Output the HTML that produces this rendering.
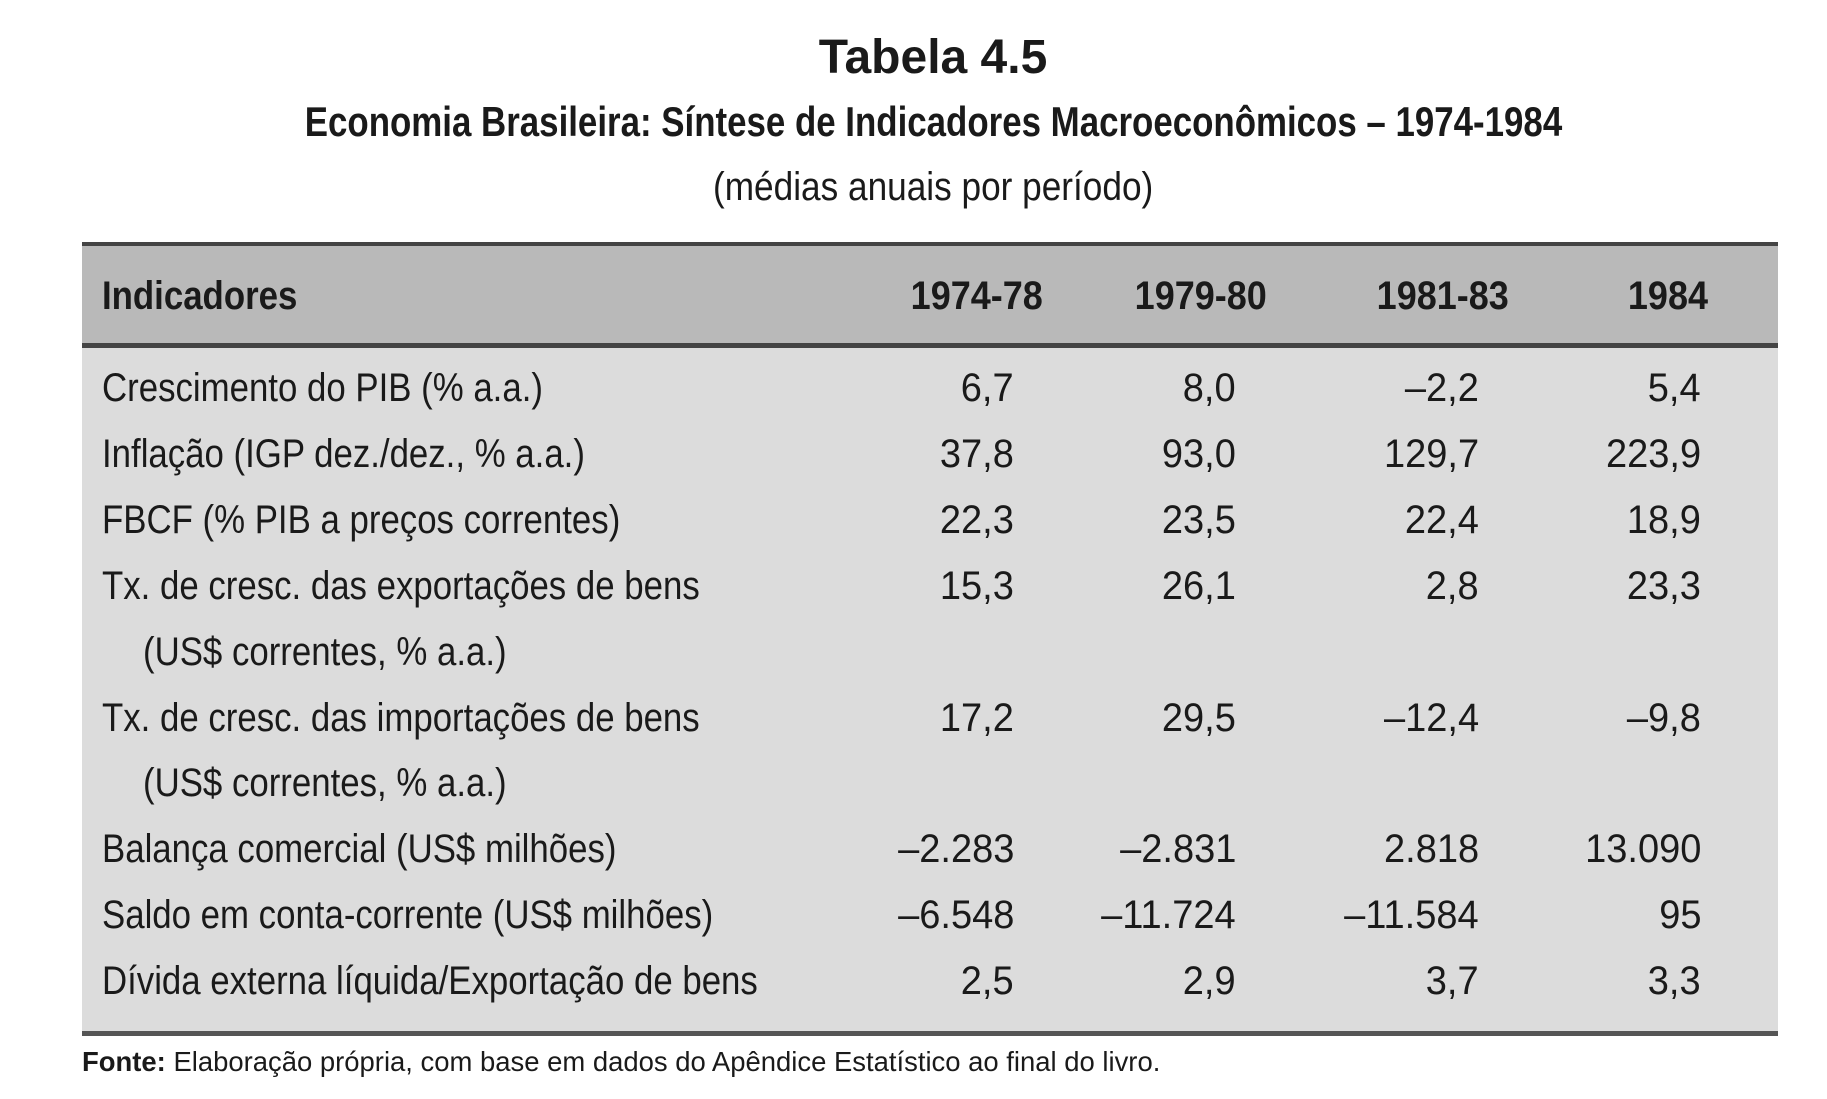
<!DOCTYPE html>
<html><head><meta charset="utf-8">
<style>
html,body{margin:0;padding:0;background:#fff;}
#root{position:relative;width:1827px;height:1099px;overflow:hidden;background:#fff;font-family:"Liberation Sans",sans-serif;color:#1a1a1a;}
.t{position:absolute;white-space:nowrap;line-height:1;}
.t span{display:inline-block;}
.l span{transform:scaleX(.87);transform-origin:left center;}
.r span{transform:scaleX(.88);transform-origin:right center;}
.c span{transform:scaleX(.83);transform-origin:center center;}
.b{font-weight:bold;}
</style></head>
<body>
<div id="root">
  <div class="t b" style="left:0;width:1866px;text-align:center;top:34px;font-size:48px;">Tabela 4.5</div>
  <div class="t b c" style="left:0;width:1866px;text-align:center;top:101px;font-size:42px;"><span>Economia Brasileira: Síntese de Indicadores Macroeconômicos – 1974-1984</span></div>
  <div class="t c" style="left:0;width:1866px;text-align:center;top:167px;font-size:40px;"><span style="transform:scaleX(.88)">(médias anuais por período)</span></div>

  <div style="position:absolute;left:82px;width:1696px;top:242px;height:4px;background:#444;"></div>
  <div style="position:absolute;left:82px;width:1696px;top:246px;height:97px;background:#b9b9b9;"></div>
  <div style="position:absolute;left:82px;width:1696px;top:343px;height:5px;background:#444;"></div>
  <div style="position:absolute;left:82px;width:1696px;top:348px;height:683px;background:#dcdcdc;"></div>
  <div style="position:absolute;left:82px;width:1696px;top:1031px;height:5px;background:#555;"></div>

  <div class="t b l" style="left:102px;top:276px;font-size:40px;"><span>Indicadores</span></div>
  <div class="t b r" style="right:784px;top:276px;font-size:40px;"><span style="transform:scaleX(.9)">1974-78</span></div>
  <div class="t b r" style="right:560px;top:276px;font-size:40px;"><span style="transform:scaleX(.9)">1979-80</span></div>
  <div class="t b r" style="right:318px;top:276px;font-size:40px;"><span style="transform:scaleX(.9)">1981-83</span></div>
  <div class="t b r" style="right:119px;top:276px;font-size:40px;"><span style="transform:scaleX(.9)">1984</span></div>

  <div class="t l" style="left:82px;top:1048px;font-size:28px;"><span style="transform:scaleX(.98)"><b>Fonte:</b> Elaboração própria, com base em dados do Apêndice Estatístico ao final do livro.</span></div>
</div>
<script>
const labels=["Crescimento do PIB (% a.a.)","Inflação (IGP dez./dez., % a.a.)","FBCF (% PIB a preços correntes)","Tx. de cresc. das exportações de bens","(US$ correntes, % a.a.)","Tx. de cresc. das importações de bens","(US$ correntes, % a.a.)","Balança comercial (US$ milhões)","Saldo em conta-corrente (US$ milhões)","Dívida externa líquida/Exportação de bens"];
const indent=[0,0,0,0,1,0,1,0,0,0];
const col1=["6,7","37,8","22,3","15,3","","17,2","","–2.283","–6.548","2,5"];
const col2=["8,0","93,0","23,5","26,1","","29,5","","–2.831","–11.724","2,9"];
const col3=["–2,2","129,7","22,4","2,8","","–12,4","","2.818","–11.584","3,7"];
const col4=["5,4","223,9","18,9","23,3","","–9,8","","13.090","95","3,3"];
const cols=[col1,col2,col3,col4];
const colRight=[813,591,348,126];
const root=document.getElementById('root');
labels.forEach((lab,i)=>{
  const y=389+i*65.9-21;
  const d=document.createElement('div');
  d.className='t l';
  
  
  d.style.left=(indent[i]?143:102)+'px';d.style.top=y+'px';d.style.fontSize='40px';
  d.innerHTML='<span>'+lab+'</span>';
  root.appendChild(d);
  cols.forEach((c,j)=>{
    if(!c[i])return;
    const v=document.createElement('div');
    v.className='t r';
    
    
    v.style.right=colRight[j]+'px';v.style.top=y+'px';v.style.fontSize='40px';
    v.innerHTML='<span style="transform:scaleX(.95)">'+c[i]+'</span>';
    root.appendChild(v);
  });
});
</script>
</body></html>
